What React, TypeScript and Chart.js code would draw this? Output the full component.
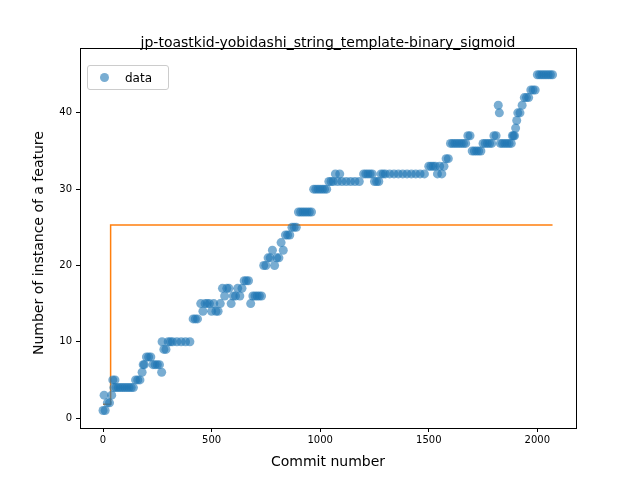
import { useEffect, useRef } from 'react';
import { Chart, registerables } from 'chart.js';

Chart.register(...registerables);

const TITLE = 'jp-toastkid-yobidashi_string_template-binary_sigmoid';

// commit number / feature count pairs
const commits = [
  0, 5, 10, 20, 30, 40, 45, 50, 55, 60, 70, 80, 90, 100, 110, 120, 130, 140, 150, 160, 170, 180, 185, 190, 200, 210, 220, 230, 240, 250, 260, 270, 272, 280, 290, 300, 310, 320, 340, 360, 380, 400, 415, 425, 435, 450, 460, 470, 480, 490, 500, 510, 520, 530, 540, 550, 560, 570, 580, 590, 600, 610, 620, 630, 640, 650, 660, 670, 680, 690, 700, 710, 720, 730, 740, 750, 760, 770, 780, 790, 800, 810, 820, 830, 840, 850, 860, 870, 880, 890, 900, 910, 920, 930, 940, 950, 960, 970, 980, 990, 1000, 1010, 1020, 1030, 1040, 1050, 1060, 1070, 1080, 1090, 1100, 1120, 1140, 1160, 1180, 1200, 1210, 1220, 1230, 1240, 1250, 1260, 1270, 1280, 1290, 1300, 1320, 1340, 1360, 1380, 1400, 1420, 1440, 1460, 1480, 1500, 1510, 1520, 1530, 1540, 1550, 1560, 1570, 1580, 1590, 1600, 1610, 1620, 1630, 1640, 1650, 1660, 1670, 1680, 1690, 1700, 1710, 1720, 1730, 1740, 1750, 1760, 1770, 1780, 1790, 1800, 1810, 1820, 1825, 1830, 1840, 1850, 1860, 1870, 1880, 1885, 1890, 1895, 1900, 1905, 1910, 1920, 1930, 1940, 1950, 1960, 1970, 1980, 1990, 2000, 2010, 2020, 2030, 2040, 2050, 2060, 2070,
];
const features = [
  1, 3, 1, 2, 2, 3, 5, 4, 5, 4, 4, 4, 4, 4, 4, 4, 4, 4, 5, 5, 5, 6, 7, 7, 8, 8, 8, 7, 7, 7, 7, 6, 10, 9, 9, 10, 10, 10, 10, 10, 10, 10, 13, 13, 13, 15, 14, 15, 15, 15, 14, 15, 14, 14, 15, 17, 16, 17, 17, 15, 16, 16, 17, 16, 17, 18, 18, 18, 15, 16, 16, 16, 16, 16, 20, 20, 21, 21, 22, 20, 21, 21, 23, 22, 24, 24, 24, 25, 25, 25, 27, 27, 27, 27, 27, 27, 27, 30, 30, 30, 30, 30, 30, 30, 31, 31, 31, 32, 31, 32, 31, 31, 31, 31, 31, 32, 32, 32, 32, 32, 31, 31, 31, 32, 32, 32, 32, 32, 32, 32, 32, 32, 32, 32, 32, 33, 33, 33, 33, 32, 33, 32, 33, 34, 34, 36, 36, 36, 36, 36, 36, 36, 36, 37, 37, 35, 35, 35, 35, 35, 36, 36, 36, 36, 36, 37, 37, 41, 40, 36, 36, 36, 36, 36, 36, 37, 37, 37, 38, 39, 40, 40, 41, 42, 42, 42, 43, 43, 43, 45, 45, 45, 45, 45, 45, 45, 45, 45,
];

// fitted step (sigmoid) curve
const fitX = [0, 35, 35, 2070];
const fitY = [1.8, 1.8, 25.3, 25.3];

const xTicks = [0, 500, 1000, 1500, 2000];
const yTicks = [0, 10, 20, 30, 40];

const boxPlugin = {
  id: 'box',
  afterDraw(chart: Chart) {
    const { ctx, chartArea: a } = chart;
    ctx.save();
    ctx.strokeStyle = '#000';
    ctx.lineWidth = 1;
    ctx.strokeRect(a.left + 0.5, a.top + 0.5, a.right - a.left, a.bottom - a.top);
    ctx.restore();
  },
};

export default function App() {
  const canvasRef = useRef<HTMLCanvasElement>(null);

  useEffect(() => {
    if (!canvasRef.current) return;
    const tickFont = { family: 'DejaVu Sans', size: 10 };
    const chart = new Chart(canvasRef.current, {
      type: 'scatter',
      data: {
        datasets: [
          {
            label: 'data',
            data: commits.map((c, i) => ({ x: c, y: features[i] })),
            backgroundColor: 'rgba(31,119,180,0.6)',
            borderWidth: 0,
            pointRadius: 4.5,
          },
          {
            label: 'fit',
            type: 'line',
            data: fitX.map((x, i) => ({ x, y: fitY[i] })),
            borderColor: '#ff7f0e',
            borderWidth: 1.5,
            pointRadius: 0,
          },
        ],
      },
      options: {
        animation: false,
        responsive: false,
        layout: { padding: { top: 48, right: 64 } },
        plugins: { legend: { display: false }, tooltip: { enabled: false } },
        scales: {
          x: {
            type: 'linear',
            min: -106,
            max: 2178,
            afterBuildTicks: (s: any) => { s.ticks = xTicks.map((v) => ({ value: v })); },
            afterFit: (s: any) => { s.height = 52; },
            ticks: { color: '#000', font: tickFont, padding: 2, maxRotation: 0, callback: (v: any) => String(v) },
            grid: { drawOnChartArea: false, color: '#000', tickLength: 4 },
            border: { color: '#000' },
          },
          y: {
            min: -1.3,
            max: 48.5,
            afterBuildTicks: (s: any) => { s.ticks = yTicks.map((v) => ({ value: v })); },
            afterFit: (s: any) => { s.width = 80; },
            ticks: { color: '#000', font: tickFont, padding: 4, callback: (v: any) => String(v) },
            grid: { drawOnChartArea: false, color: '#000', tickLength: 4 },
            border: { color: '#000' },
          },
        },
      },
      plugins: [boxPlugin],
    });
    return () => chart.destroy();
  }, []);

  return (
    <div style={{ position: 'fixed', left: 0, top: 0, width: 640, height: 480, background: '#fff', fontFamily: 'DejaVu Sans' }}>
      <canvas ref={canvasRef} width={640} height={480} />
      <div style={{ position: 'absolute', top: 34, left: 0, width: 656, textAlign: 'center', fontSize: 14 }}>{TITLE}</div>
      <div style={{ position: 'absolute', top: 453, left: 0, width: 656, textAlign: 'center', fontSize: 14 }}>Commit number</div>
      <div style={{ position: 'absolute', left: 38, top: 243, width: 0, height: 0 }}>
        <div style={{ position: 'absolute', transform: 'translate(-50%,-50%) rotate(-90deg)', whiteSpace: 'nowrap', fontSize: 14 }}>
          Number of instance of a feature
        </div>
      </div>
      <div style={{ position: 'absolute', left: 87, top: 65, width: 82, height: 25, border: '1px solid #ccc', borderRadius: 3, boxSizing: 'border-box', display: 'flex', alignItems: 'center', fontSize: 12 }}>
        <span style={{ display: 'inline-block', width: 9, height: 9, borderRadius: 5, background: 'rgba(31,119,180,0.6)', marginLeft: 12, marginRight: 16 }} />
        data
      </div>
    </div>
  );
}
